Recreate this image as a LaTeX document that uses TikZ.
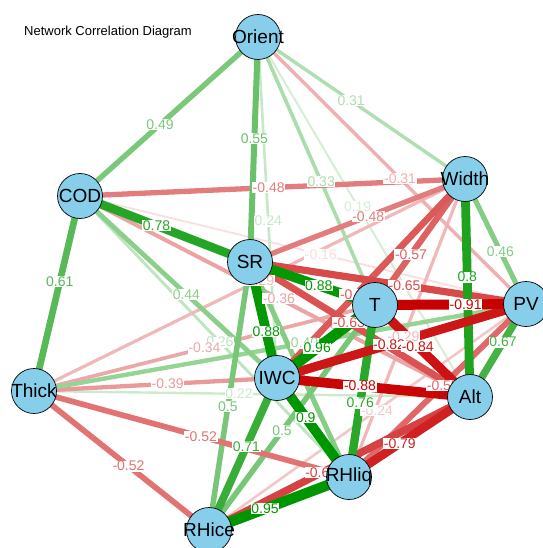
\documentclass[tikz,border=0pt]{standalone}
\usepackage{fontspec}
\setmainfont{Liberation Sans}
\pgfdeclarelayer{bg}\pgfdeclarelayer{lbl}
\pgfsetlayers{bg,lbl,main}
\definecolor{gb}{RGB}{0,150,0}
\definecolor{rb}{RGB}{200,0,0}
\definecolor{nodefill}{RGB}{135,206,235}
\tikzset{
  vtx/.style={circle,draw=black,line width=0.7pt,fill=nodefill,minimum size=45pt,inner sep=0pt},
  vlab/.style={inner sep=0pt,font=\fontsize{19}{19}\selectfont},
  lab/.style={fill=white,inner sep=0.6pt,font=\fontsize{14}{14}\selectfont},
}
% from, to, base colour, percent, width, pos, label
\newcommand\corr[7]{%
\begin{pgfonlayer}{bg}\draw[line width=#5pt,draw=#3!#4!white] (#1.center) -- (#2.center);\end{pgfonlayer}%
\begin{pgfonlayer}{lbl}\path (#1.center) -- (#2.center) node[lab,text=#3!#4!white,pos=#6]{#7};\end{pgfonlayer}}
\newcommand\corrn[5]{%
\begin{pgfonlayer}{bg}\draw[line width=#5pt,draw=#3!#4!white] (#1.center) -- (#2.center);\end{pgfonlayer}}
\begin{document}
\begin{tikzpicture}[x=1pt,y=-1pt]
\useasboundingbox (0,0) rectangle (542,548);
\node[anchor=west,inner sep=0pt,font=\fontsize{13}{13}\selectfont] (title) at (24,32) {Network Correlation Diagram};
% nodes
\node[vtx] (O) at (258,37) {};
\node[vtx] (C) at (80,196) {};
\node[vtx] (W) at (465,179) {};
\node[vtx] (S) at (250,262) {};
\node[vtx] (T) at (375,305) {};
\node[vtx] (P) at (526,304) {};
\node[vtx] (K) at (34,391) {};
\node[vtx] (I) at (277,378) {};
\node[vtx] (A) at (470,397) {};
\node[vtx] (L) at (349,477) {};
\node[vtx] (H) at (209,530) {};
\node[vlab] (Ot) at (O) {Orient};
\node[vlab] (Ct) at (C) {COD};
\node[vlab] (Wt) at (W) {Width};
\node[vlab] (St) at (S) {SR};
\node[vlab] (Tt) at (T) {T};
\node[vlab] (Pt) at (P) {PV};
\node[vlab] (Kt) at (K) {Thick};
\node[vlab] (It) at (I) {IWC};
\node[vlab] (At) at (A) {Alt};
\node[vlab] (Lt) at (L) {RHliq};
\node[vlab] (Ht) at (H) {RHice};
% edges, weakest first
\corr{C}{P}{rb}{13}{1.8}{0.54}{-0.16}
\corr{O}{A}{gb}{16}{2.1}{0.47}{0.19}
\corr{K}{A}{gb}{20}{2.4}{0.47}{0.22}
\corr{O}{I}{gb}{22}{2.6}{0.54}{0.24}
\corr{H}{P}{rb}{22}{2.6}{0.53}{-0.24}
\corr{C}{L}{gb}{25}{2.9}{0.52}{0.26}
\corr{W}{L}{rb}{28}{3.2}{0.53}{-0.29}
\corr{K}{W}{rb}{28}{3.2}{0.52}{-0.29}
\corr{O}{W}{gb}{31}{3.4}{0.45}{0.31}
\corr{O}{P}{rb}{31}{3.4}{0.53}{-0.31}
\corr{O}{T}{gb}{33}{3.6}{0.54}{0.33}
\corr{K}{T}{rb}{34}{3.7}{0.50}{-0.34}
\corr{C}{A}{rb}{36}{4.0}{0.51}{-0.36}
\corr{K}{I}{rb}{40}{4.3}{0.55}{-0.39}
\corr{K}{P}{gb}{41}{4.4}{0.55}{0.40}
\corr{C}{I}{gb}{46}{4.8}{0.54}{0.44}
\corr{W}{P}{gb}{48}{5.1}{0.58}{0.46}
\corrn{S}{L}{gb}{48}{5.1}
\corr{C}{W}{rb}{51}{5.3}{0.49}{-0.48}
\corr{S}{W}{rb}{51}{5.3}{0.55}{-0.48}
\corr{O}{C}{gb}{52}{5.4}{0.55}{0.49}
\corr{S}{H}{gb}{53}{5.5}{0.54}{0.5}
\corr{H}{T}{gb}{53}{5.5}{0.44}{0.5}
\corr{K}{L}{rb}{55}{5.7}{0.53}{-0.52}
\corr{K}{H}{rb}{55}{5.7}{0.54}{-0.52}
\corr{O}{S}{gb}{59}{6.0}{0.45}{0.55}
\corr{P}{L}{rb}{59}{6.0}{0.47}{-0.55}
\corr{W}{T}{rb}{61}{6.3}{0.60}{-0.57}
\corr{W}{I}{rb}{65}{6.6}{0.58}{-0.60}
\corr{C}{K}{gb}{66}{6.7}{0.44}{0.61}
\corr{S}{A}{rb}{68}{6.9}{0.45}{-0.63}
\corr{S}{P}{rb}{71}{7.2}{0.56}{-0.65}
\corr{P}{A}{gb}{73}{7.4}{0.41}{0.67}
\corr{H}{A}{rb}{74}{7.5}{0.43}{-0.68}
\corr{I}{H}{gb}{78}{7.8}{0.45}{0.71}
\corr{T}{L}{gb}{84}{8.4}{0.57}{0.76}
\corr{C}{S}{gb}{86}{8.6}{0.45}{0.78}
\corr{L}{A}{rb}{87}{8.7}{0.42}{-0.79}
\corr{W}{A}{gb}{88}{8.8}{0.45}{0.8}
\corr{I}{P}{rb}{91}{9.0}{0.45}{-0.82}
\corr{T}{A}{rb}{93}{9.2}{0.45}{-0.84}
\corr{S}{T}{gb}{98}{9.7}{0.55}{0.88}
\corr{S}{I}{gb}{98}{9.7}{0.60}{0.88}
\corr{I}{A}{rb}{98}{9.7}{0.43}{-0.88}
\corr{I}{L}{gb}{100}{9.9}{0.40}{0.9}
\corr{T}{P}{rb}{100}{10.0}{0.60}{-0.91}
\corr{H}{L}{gb}{100}{10.5}{0.40}{0.95}
\corr{I}{T}{gb}{100}{10.6}{0.41}{0.96}
\end{tikzpicture}
\end{document}
